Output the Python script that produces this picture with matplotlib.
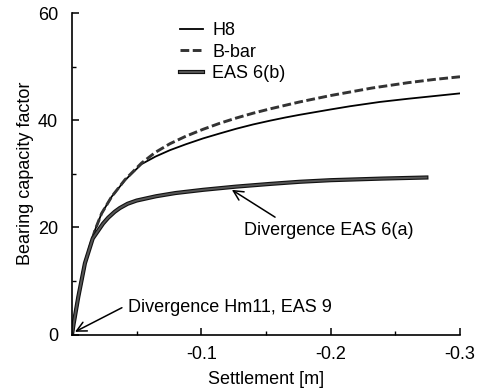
import matplotlib
matplotlib.use("Agg")
import matplotlib.pyplot as plt
import matplotlib.patheffects as pe
from matplotlib.ticker import MultipleLocator

plt.rcParams["font.family"] = ["Liberation Sans", "DejaVu Sans"]

# ---------------------------------------------------------------------------
# Data (settlement in m, negative = downward)
# ---------------------------------------------------------------------------
h8_x = [0, -0.0012, -0.0049, -0.010, -0.0178, -0.0229, -0.0306, -0.041, -0.0538,
        -0.0645, -0.0757, -0.088, -0.1014, -0.114, -0.127, -0.14, -0.153, -0.165,
        -0.176, -0.2, -0.215, -0.238, -0.26, -0.28, -0.30]
h8_y = [0, 1.9, 7.06, 13.3, 19.5, 22.6, 25.7, 28.8, 31.8,
        33.2, 34.4, 35.5, 36.6, 37.5, 38.4, 39.2, 39.9, 40.5,
        41.0, 42.0, 42.6, 43.4, 44.0, 44.5, 45.0]

bbar_x = [0, -0.0012, -0.0049, -0.010, -0.0178, -0.0229, -0.0306, -0.041, -0.0538,
          -0.0645, -0.0757, -0.088, -0.1014, -0.114, -0.127, -0.14, -0.153,
          -0.176, -0.2, -0.232, -0.26, -0.28, -0.30]
bbar_y = [0, 1.9, 7.06, 13.3, 19.5, 22.6, 25.7, 28.9, 32.0,
          34.0, 35.6, 37.0, 38.3, 39.4, 40.4, 41.3, 42.1,
          43.4, 44.6, 46.0, 47.0, 47.6, 48.1]

eas_x = [0, -0.0012, -0.0049, -0.010, -0.016, -0.0203, -0.024, -0.028, -0.033,
         -0.037, -0.043, -0.05, -0.065, -0.08, -0.1014, -0.127, -0.153, -0.176,
         -0.2, -0.24, -0.274]
eas_y = [0, 1.9, 7.06, 13.3, 17.9, 19.4, 20.7, 21.8, 22.9,
         23.6, 24.4, 25.0, 25.8, 26.4, 27.0, 27.6, 28.1, 28.5,
         28.8, 29.1, 29.3]

x_ticks = [-0.1, -0.2, -0.3]
x_ticklabels = ["-0.1", "-0.2", "-0.3"]
y_ticks = [0, 20, 40, 60]

FS = 13

# ---------------------------------------------------------------------------
# Figure
# ---------------------------------------------------------------------------
fig = plt.figure(figsize=(4.92, 3.91), dpi=100)
ax = fig.add_axes([72 / 492, 1 - 334.5 / 391, (460 - 72) / 492, (334.5 - 13) / 391])

ax.plot(h8_x, h8_y, color="black", lw=1.3, label="H8")
ax.plot(bbar_x, bbar_y, color="#333333", lw=2.1, dashes=(3.0, 1.2), label="B-bar")
ax.plot(eas_x, eas_y, color="#555555", lw=1.4, label="EAS 6(b)",
        path_effects=[pe.Stroke(linewidth=3.0, foreground="#111111"), pe.Normal()])

ax.set_xlim(0, -0.3)
ax.set_ylim(0, 60)
ax.set_xticks(x_ticks)
ax.set_xticklabels(x_ticklabels)
ax.set_yticks(y_ticks)
ax.xaxis.set_minor_locator(MultipleLocator(0.05))
ax.yaxis.set_minor_locator(MultipleLocator(10))
ax.tick_params(which="both", direction="in", labelsize=FS)
ax.tick_params(which="major", length=5, width=1.1)
ax.tick_params(which="minor", length=3, width=1.0)
ax.tick_params(axis="y", pad=10)
ax.tick_params(axis="x", pad=8)

ax.spines["top"].set_visible(False)
ax.spines["right"].set_visible(False)
for s in ("left", "bottom"):
    ax.spines[s].set_linewidth(1.2)

ax.set_xlabel("Settlement [m]", fontsize=FS, labelpad=6)
ax.set_ylabel("Bearing capacity factor", fontsize=FS, labelpad=3)

# annotations
arrow = dict(arrowstyle="->,head_length=0.7,head_width=0.35", color="black", lw=1.1,
             shrinkA=0, shrinkB=0)
ax.annotate("", xy=(-0.1236, 27.0), xytext=(-0.157, 21.9), arrowprops=arrow)
ax.text(-0.1985, 19.5, "Divergence EAS 6(a)", fontsize=FS, ha="center", va="center")

ax.annotate("", xy=(-0.0023, 0.5), xytext=(-0.0386, 5.0), arrowprops=arrow)
ax.text(-0.0432, 5.0, "Divergence Hm11, EAS 9", fontsize=FS, ha="left", va="center")

ax.legend(loc="upper left", bbox_to_anchor=(180 / 492, 1 - 22 / 391),
          bbox_transform=fig.transFigure, frameon=False, fontsize=FS,
          borderpad=0, borderaxespad=0, handlelength=1.3, handletextpad=0.5,
          labelspacing=0.26)

fig.savefig("out.png", dpi=100)
